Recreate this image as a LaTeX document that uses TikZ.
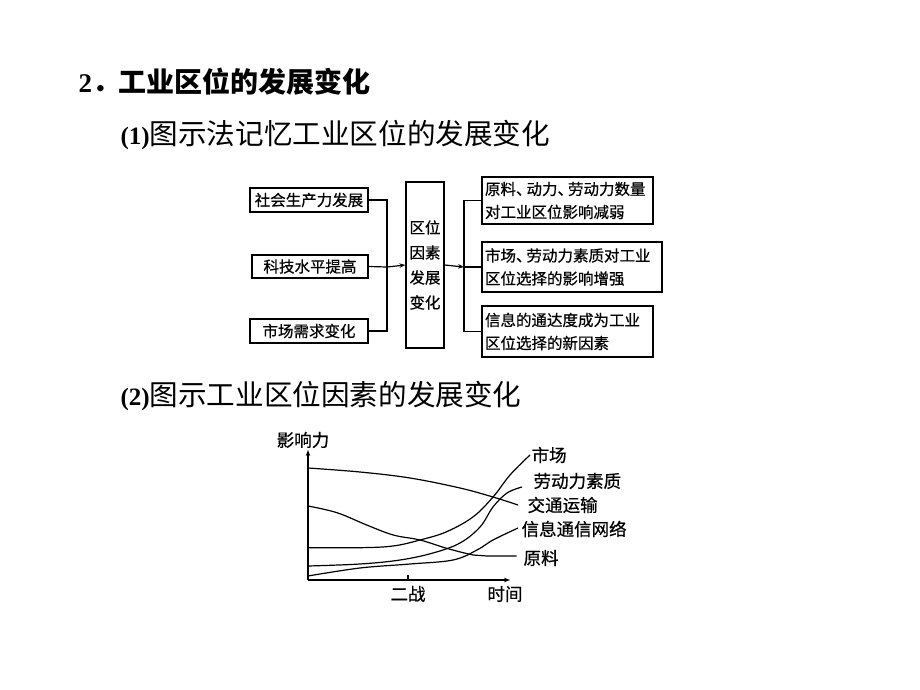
\documentclass[tikz,border=0pt]{standalone}
\usepackage{fontspec}
\setmainfont{Liberation Serif}
\newfontfamily\cjk{Noto Sans CJK SC}
\newfontfamily\cjkh[FakeBold=0.6]{Noto Sans CJK SC}
\usetikzlibrary{arrows.meta}
\newcommand{\dun}{、\kern-5pt}
\begin{document}
\begin{tikzpicture}[x=1pt,y=-1pt,
  line width=1.2pt,
  box/.style={draw,inner sep=0pt,font=\cjkh\fontsize{15.5}{23}\selectfont},
  tip/.style={-{Stealth[length=6pt,width=4.5pt]}},
  lbl/.style={font=\cjkh\fontsize{17.5}{20}\selectfont,inner sep=0pt},
  curve/.style={line width=1.2pt,smooth,tension=0.6}]
\path[use as bounding box,fill=white] (0,0) rectangle (920,690);
% headings
\node[anchor=west,inner sep=0pt] (t1) at (78,82) {\fontsize{27}{30}\selectfont\bfseries 2\cjk\fontsize{28}{30}\selectfont ．\kern-2pt 工业区位的发展变化};
\node[anchor=west,inner sep=0pt] (t2) at (120,135) {\fontsize{25}{30}\selectfont\bfseries (1)\cjk\mdseries\fontsize{28.6}{30}\selectfont 图示法记忆工业区位的发展变化};
\node[anchor=west,inner sep=0pt] (t3) at (120,396) {\fontsize{25}{30}\selectfont\bfseries (2)\cjk\mdseries\fontsize{28.6}{30}\selectfont 图示工业区位因素的发展变化};
% flow chart
\node[box,minimum width=118pt,minimum height=24pt] (a) at (309,200) {社会生产力发展};
\node[box,minimum width=116pt,minimum height=23pt] (b) at (310,266.5) {科技水平提高};
\node[box,minimum width=118pt,minimum height=24pt] (c) at (309,331) {市场需求变化};
\node[box,minimum width=38pt,minimum height=166pt,align=center,font=\cjkh\fontsize{15.5}{25}\selectfont] (m) at (425,265) {区位\\因素\\发展\\变化};
\node[box,minimum width=171pt,minimum height=47pt,text width=165pt,align=left] (r1) at (567.5,200.5) {原料\dun 动力\dun 劳动力数量\\对工业区位影响减弱};
\node[box,minimum width=180pt,minimum height=50pt,text width=174pt,align=left] (r2) at (572,267) {市场\dun 劳动力素质对工业\\区位选择的影响增强};
\node[box,minimum width=171pt,minimum height=51pt,text width=165pt,align=left] (r3) at (567.5,331.5) {信息的通达度成为工业\\区位选择的新因素};
\coordinate (j) at (387,267);
\coordinate (k) at (464,267);
\draw (a.east) -| (j);
\draw (c.east) -| (j);
\draw (b.east) -- (j);
\draw[tip] (j) -- (m.west);
\draw[tip] (m.east) -- (k);
\draw (k) |- (r1.west);
\draw (k) |- (r3.west);
\draw (k) -- (r2.west);
% chart
\coordinate (O) at (308,580);
\coordinate (yt) at (308,450);
\coordinate (xt) at (510,580);
\draw[tip] (O) -- (yt);
\draw[tip] (O) -- (xt);
\coordinate (tk) at (408,580);
\draw (tk) -- ++(0,-5);
\node[lbl] (yl) at (303,440) {影响力};
\node[lbl] (xl) at (505,594) {时间};
\node[lbl] (ez) at (408,594) {二战};
\draw[curve] plot coordinates {(308,468) (360,472) (410,478) (460,488) (493,497) (518,505)};
\draw[curve] plot coordinates {(308,506) (337,512.7) (366.7,525) (393.3,535) (420,540) (446.7,548.3) (473.3,555) (486.7,556) (516.7,556)};
\draw[curve] plot coordinates {(308,547.7) (360,547.7) (393,546) (420,540) (446.7,531.7) (473.3,516.7) (493.3,496.7) (510,475) (530,455)};
\draw[curve] plot coordinates {(308,566) (360,564) (400,560) (433,553) (460,543) (480,527) (493,507) (507,493) (522,487)};
\draw[curve] plot coordinates {(308,576) (360,568) (410,564) (453,560) (477,550) (493,540) (518,528)};
\node[lbl,anchor=west] (l1) at (531,455) {市场};
\node[lbl,anchor=west] (l2) at (533,481) {劳动力素质};
\node[lbl,anchor=west] (l3) at (527,505) {交通运输};
\node[lbl,anchor=west] (l4) at (521,529) {信息通信网络};
\node[lbl,anchor=west] (l5) at (523,558) {原料};
\end{tikzpicture}
\end{document}
